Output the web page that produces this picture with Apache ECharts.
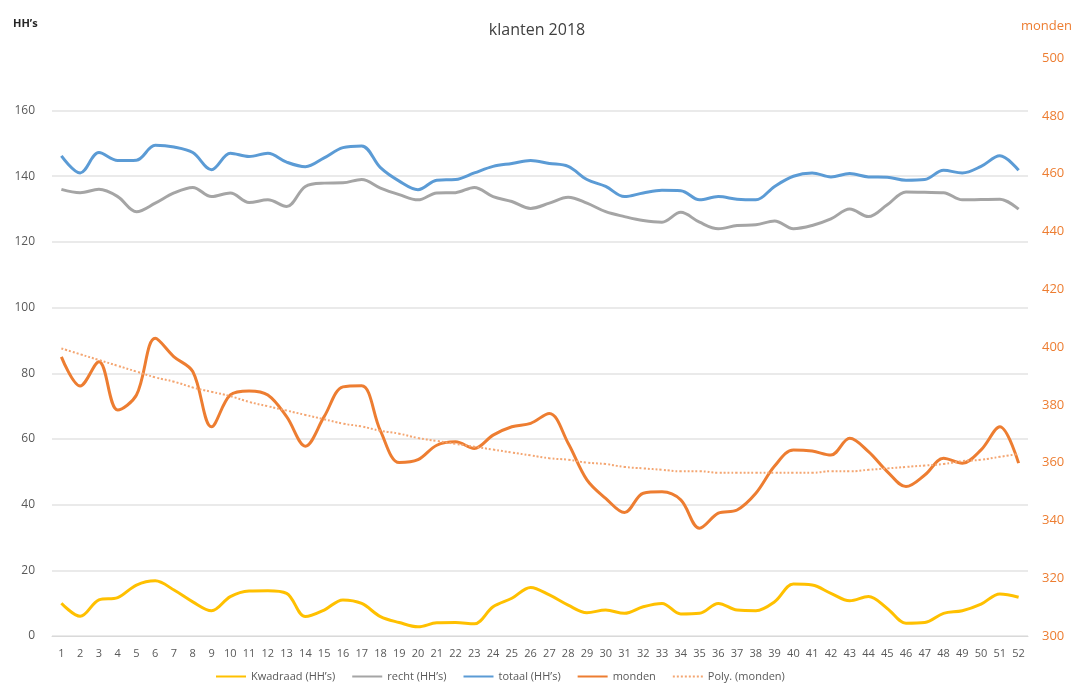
<!DOCTYPE html>
<html>
<head>
<meta charset="utf-8">
<title>klanten 2018</title>
<script src="https://cdn.jsdelivr.net/npm/echarts@6/dist/echarts.min.js"></script>
<style>
  html, body { margin: 0; padding: 0; background: #fff; }
  #main { width: 1074px; height: 691px; }
</style>
</head>
<body>
<div id="main"></div>
<script>
// weken 1 t/m 52
var weeks = [];
for (var w = 1; w <= 52; w++) weeks.push(String(w));

// HH's (linker as)
var kwadraad = [10, 6, 11, 11.7, 15.5, 16.8, 14, 10.4, 7.7, 12, 13.7, 13.8, 13, 5.9, 7.9, 11, 9.9, 5.9, 4.1, 2.8, 4, 4.1, 3.7, 8.9, 11.5, 14.8,
                12.5, 9.4, 7.1, 7.9, 6.9, 8.9, 9.9, 6.7, 6.9, 9.9, 7.9, 7.7, 10.4, 15.8, 15.5, 13, 10.7, 12, 8.4, 3.9, 4.1, 6.9, 7.7, 9.7, 12.8, 11.8];
var recht = [136, 135, 136, 133.8, 129.2, 131.8, 134.9, 136.6, 133.8, 134.9, 132, 132.8, 130.8, 136.9, 137.9, 138, 139, 136.4, 134.4, 132.8, 134.9, 135, 136.6, 133.8, 132.3, 130.2,
             131.8, 133.6, 131.8, 129.2, 127.7, 126.5, 126, 129, 126, 124, 125, 125.2, 126.4, 124, 125, 127, 130, 127.7, 131.3, 135.2, 135.1, 135, 132.8, 132.9, 133, 130];
var totaal = [146.2, 141, 147.2, 144.8, 144.9, 149.4, 148.9, 147.2, 142, 147, 146, 147, 144.3, 142.9, 145.6, 148.7, 149.2, 142.6, 138.5, 135.9, 138.8, 139, 141, 143, 143.9, 144.8,
              143.9, 143, 139, 136.9, 133.8, 134.9, 135.7, 135.6, 132.8, 133.8, 133, 132.8, 136.9, 140, 141, 139.8, 140.8, 139.8, 139.7, 138.8, 139, 141.8, 141, 143, 146.2, 141.8];

// monden (rechter as)
var monden = [396.6, 386.5, 394.9, 378.2, 383.4, 403, 396.6, 391.5, 372.4, 383.4, 384.8, 383.4, 375.9, 365.7, 375.9, 386.2, 386.6, 371, 360, 361, 366, 367.2, 364.9, 369.5, 372.4, 373.6,
              377, 366.7, 354, 347.6, 342.7, 349.4, 349.9, 347.1, 337.3, 342.5, 343.6, 349.4, 358.8, 364.4, 364, 362.6, 368.4, 363.8, 356.9, 351.7, 355.7, 361.5, 359.8, 364.4, 372.4, 359.8];
var polyMonden = [399.5, 397.5, 395.5, 393.5, 391.5, 389.5, 388, 386, 384.5, 383, 381, 379.5, 378, 376.5, 375, 373.5, 372.5, 371, 370, 368.5, 367.5, 366.5,
                  365.5, 364.5, 363.5, 362.5, 361.5, 361, 360, 359.5, 358.5, 358, 357.5, 357, 357, 356.5, 356.5, 356.5, 356.5, 356.5, 356.5, 357,
                  357, 357.5, 358, 358.5, 359, 359.5, 360.5, 361, 362, 363];

var leftTicks = { min: 0, max: 176, interval: 20 };
var rightTicks = { min: 300, max: 500, interval: 20 };

var chart = echarts.init(document.getElementById('main'));

var option = {
    animation: false,
    title: {
        text: 'klanten 2018',
        left: 'center',
        top: 17,
        textStyle: { fontFamily: 'Open Sans', fontSize: 16, fontWeight: 'normal', color: '#404040' }
    },
    graphic: [
        { type: 'text', left: 13, top: 18, style: { text: 'HH’s', fontFamily: 'Open Sans', fontSize: 11, fontWeight: 'bold', fill: '#262626' } },
        { type: 'text', right: 2, top: 20, style: { text: 'monden', fontFamily: 'Open Sans', fontSize: 13, fill: '#ED7D31' } }
    ],
    legend: {
        left: 210,
        bottom: 4,
        itemWidth: 30,
        itemHeight: 10,
        itemGap: 16,
        itemStyle: { opacity: 0 },
        textStyle: { fontFamily: 'Open Sans', fontSize: 11, color: '#595959' },
        data: ['Kwadraad (HH’s)', 'recht (HH’s)', 'totaal (HH’s)', 'monden', 'Poly. (monden)']
    },
    grid: { left: 52, right: 46, top: 58, bottom: 55 },
    xAxis: {
        type: 'category',
        data: weeks,
        boundaryGap: true,
        axisLine: { lineStyle: { color: '#d9d9d9' } },
        axisTick: { show: false },
        axisLabel: { margin: 12, interval: 0, fontFamily: 'Open Sans', fontSize: 11, color: '#595959' }
    },
    yAxis: [
        {
            type: 'value',
            min: leftTicks.min,
            max: leftTicks.max,
            interval: leftTicks.interval,
            axisLine: { show: false },
            axisTick: { show: false },
            axisLabel: { margin: 17, showMaxLabel: false, fontFamily: 'Open Sans', fontSize: 12, color: '#595959' },
            splitLine: { showMaxLine: false, lineStyle: { color: '#e3e3e3', width: 1.5 } }
        },
        {
            type: 'value',
            min: rightTicks.min,
            max: rightTicks.max,
            interval: rightTicks.interval,
            axisLine: { show: false },
            axisTick: { show: false },
            splitLine: { show: false },
            axisLabel: { margin: 14, fontFamily: 'Open Sans', fontSize: 13, color: '#ED7D31' }
        }
    ],
    series: [
        {
            name: 'Kwadraad (HH’s)', type: 'line', yAxisIndex: 0, data: kwadraad,
            smooth: 0.35, symbol: 'none', lineStyle: { color: '#FFC000', width: 3 }, itemStyle: { color: '#FFC000' }
        },
        {
            name: 'recht (HH’s)', type: 'line', yAxisIndex: 0, data: recht,
            smooth: 0.35, symbol: 'none', lineStyle: { color: '#A5A5A5', width: 3 }, itemStyle: { color: '#A5A5A5' }
        },
        {
            name: 'totaal (HH’s)', type: 'line', yAxisIndex: 0, data: totaal,
            smooth: 0.35, symbol: 'none', lineStyle: { color: '#5B9BD5', width: 3 }, itemStyle: { color: '#5B9BD5' }
        },
        {
            name: 'monden', type: 'line', yAxisIndex: 1, data: monden,
            smooth: 0.35, symbol: 'none', lineStyle: { color: '#ED7D31', width: 3 }, itemStyle: { color: '#ED7D31' }
        },
        {
            name: 'Poly. (monden)', type: 'line', yAxisIndex: 1, data: polyMonden,
            smooth: true, symbol: 'none', lineStyle: { color: '#F4A672', width: 2, type: 'dotted' }, itemStyle: { color: '#F4A672' }
        }
    ]
};

chart.setOption(option);
</script>
</body>
</html>
